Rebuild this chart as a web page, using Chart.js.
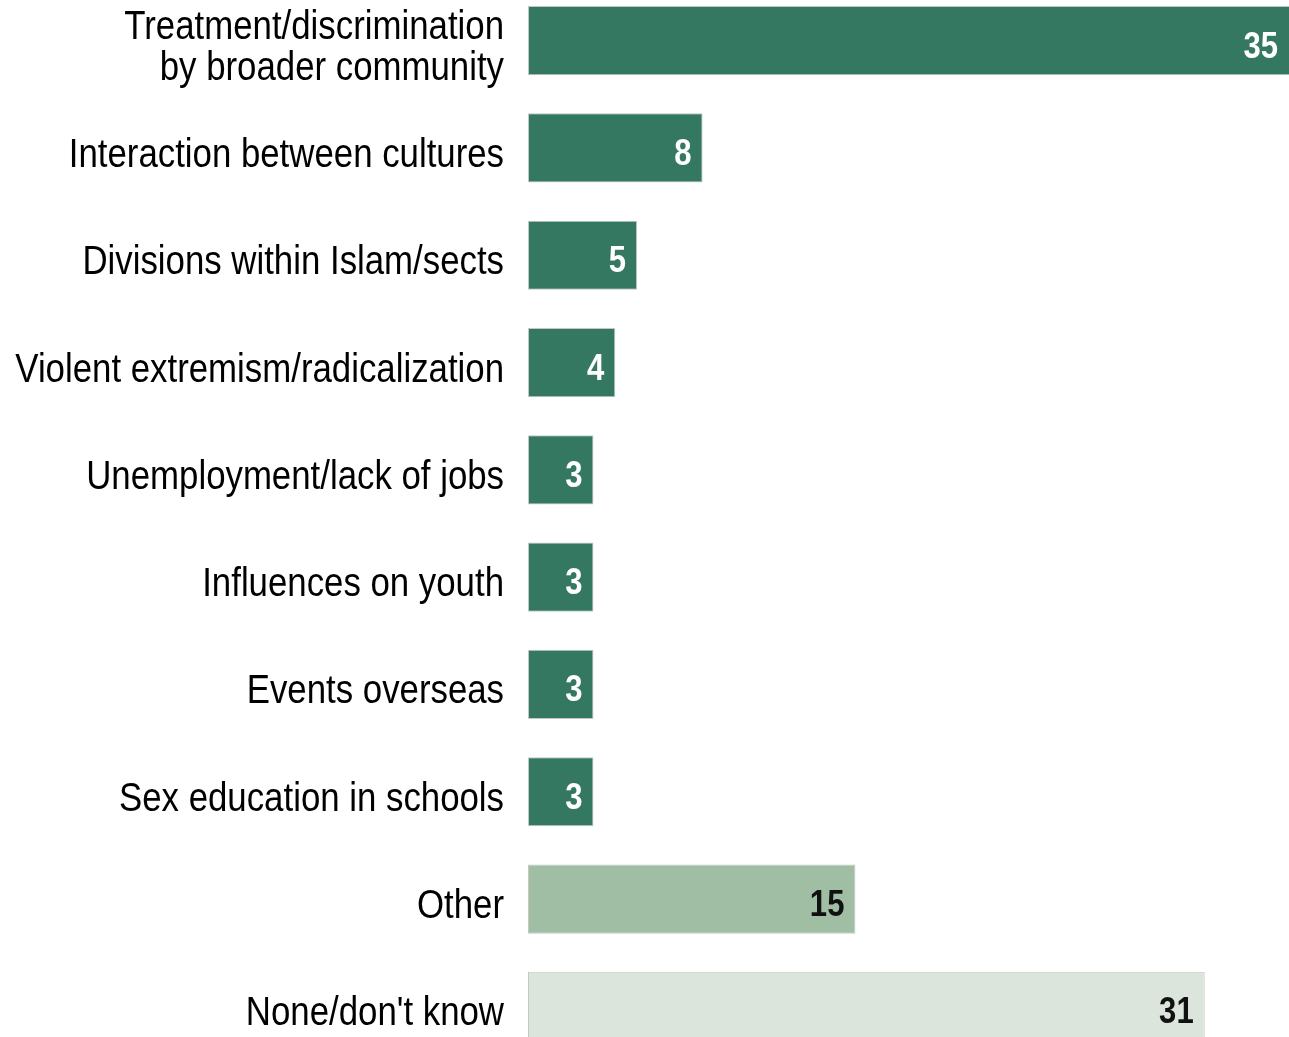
<!DOCTYPE html>
<html>
<head>
<meta charset="utf-8">
<script src="https://cdn.jsdelivr.net/npm/chart.js@4/dist/chart.umd.min.js"></script>
<style>
    html, body { margin: 0; padding: 0; background: #fff; overflow: hidden; }
    #wrap { position: absolute; left: 0; top: -13px; width: 1292px; height: 1073px; }
</style>
</head>
<body>
<div id="wrap"><canvas id="issuesChart"></canvas></div>
<script>
/* ================================
   Data
================================ */
const categories = [
    ["Treatment/discrimination", "by broader community"],
    "Interaction between cultures",
    "Divisions within Islam/sects",
    "Violent extremism/radicalization",
    "Unemployment/lack of jobs",
    "Influences on youth",
    "Events overseas",
    "Sex education in schools",
    "Other",
    "None/don't know",
];
const values = [35, 8, 5, 4, 3, 3, 3, 3, 15, 31];
const groups = ["issue", "issue", "issue", "issue", "issue", "issue", "issue", "issue", "other", "none"];
const xTicks = [0, 35];

/* ================================
   Styles
================================ */
// no narrow face installed, so Liberation Sans gets squeezed horizontally
const FONT = "'Liberation Sans', Arial, sans-serif";
const fillFor = { issue: "#347862", other: "#a0bea4", none: "#dbe5db" };
const textFor = { issue: "#ffffff", other: "#111111", none: "#111111" };

function narrowText(ctx, text, x, y, squeeze) {
    ctx.save();
    ctx.translate(x, y);
    ctx.scale(squeeze, 1);
    ctx.fillText(text, 0, 0);
    ctx.restore();
}

/* ================================
   Category labels + value labels
================================ */
const narrowLabels = {
    id: "narrowLabels",
    afterDatasetsDraw(chart) {
        const ctx = chart.ctx;
        const yScale = chart.scales.y;
        const meta = chart.getDatasetMeta(0);

        ctx.save();
        ctx.textAlign = "right";
        ctx.textBaseline = "alphabetic";

        // category labels, left of the axis
        ctx.font = "40px " + FONT;
        ctx.fillStyle = "#000";
        categories.forEach(function (label, i) {
            const lines = Array.isArray(label) ? label : [label];
            const cy = yScale.getPixelForValue(i);
            const lineH = 41;
            const first = cy - (lines.length - 1) * lineH / 2 + 19;
            lines.forEach(function (line, j) {
                narrowText(ctx, line, 504, first + j * lineH, 0.87);
            });
        });

        // values inside the bar ends
        ctx.font = "bold 37px " + FONT;
        meta.data.forEach(function (bar, i) {
            ctx.fillStyle = textFor[groups[i]];
            const right = Math.min(bar.x, 1289);
            narrowText(ctx, String(values[i]), right - 11, bar.y + 17, 0.84);
        });
        ctx.restore();
    },
};

const ctx = document.getElementById("issuesChart").getContext("2d");
new Chart(ctx, {
    type: "bar",
    data: {
        labels: categories,
        datasets: [{
            data: values,
            backgroundColor: groups.map(function (g) { return fillFor[g]; }),
            borderColor: "#c4c8c4",
            borderWidth: 1,
            borderSkipped: false,
            categoryPercentage: 1,
            barPercentage: 0.645,
        }],
    },
    options: {
        indexAxis: "y",
        responsive: true,
        maintainAspectRatio: false,
        animation: false,
        layout: { padding: 0 },
        plugins: {
            legend: { display: false },
            tooltip: { enabled: false },
        },
        scales: {
            x: {
                display: false,
                min: xTicks[0],
                max: xTicks[1],
            },
            y: {
                grid: { display: false, drawTicks: false },
                border: { display: false },
                ticks: { display: false },
                afterFit: function (scale) {
                    scale.width = 528;
                    scale.paddingTop = 0;
                    scale.paddingBottom = 0;
                },
            },
        },
    },
    plugins: [narrowLabels],
});
</script>
</body>
</html>
